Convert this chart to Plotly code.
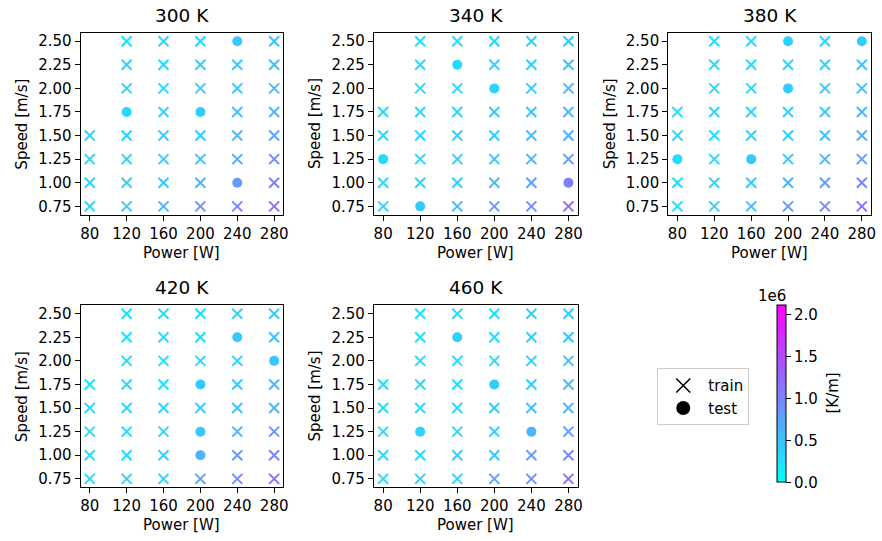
import plotly.graph_objects as go

# Process grid
POWERS = [80, 120, 160, 200, 240, 280]               # laser power [W]
SPEEDS = [0.75, 1.00, 1.25, 1.50, 1.75, 2.00, 2.25, 2.50]  # scan speed [m/s]
TEMPS = ["300 K", "340 K", "380 K", "420 K", "460 K"]

# Cooling rate in units of 1e6 K/m; rows follow SPEEDS, columns follow POWERS
RATE_300 = [
    [0.36, 0.42, 0.62, 0.86, 1.00, 1.27],
    [0.36, 0.39, 0.46, 0.56, 0.82, 1.06],
    [0.35, 0.37, 0.42, 0.52, 0.68, 0.96],
    [0.35, 0.37, 0.39, 0.46, 0.56, 0.71],
    [None, 0.35, 0.37, 0.42, 0.52, 0.62],
    [None, 0.33, 0.35, 0.39, 0.48, 0.58],
    [None, 0.33, 0.35, 0.37, 0.46, 0.54],
    [None, 0.31, 0.33, 0.35, 0.44, 0.50],
]
RATE_340 = [
    [0.35, 0.44, 0.60, 0.82, 0.97, 1.26],
    [0.33, 0.35, 0.42, 0.54, 0.80, 1.06],
    [0.31, 0.35, 0.39, 0.48, 0.60, 0.86],
    [0.31, 0.33, 0.37, 0.42, 0.52, 0.65],
    [0.31, 0.31, 0.35, 0.39, 0.48, 0.58],
    [None, 0.31, 0.33, 0.37, 0.44, 0.54],
    [None, 0.29, 0.31, 0.35, 0.42, 0.50],
    [None, 0.29, 0.31, 0.33, 0.39, 0.46],
]
RATE_380 = [
    [0.33, 0.39, 0.54, 0.80, 0.97, 1.23],
    [0.31, 0.35, 0.44, 0.60, 0.82, 1.02],
    [0.29, 0.33, 0.46, 0.46, 0.58, 0.82],
    [0.29, 0.31, 0.35, 0.40, 0.50, 0.62],
    [0.29, 0.31, 0.33, 0.37, 0.46, 0.56],
    [None, 0.29, 0.31, 0.42, 0.42, 0.52],
    [None, 0.29, 0.31, 0.33, 0.40, 0.48],
    [None, 0.27, 0.29, 0.40, 0.37, 0.44],
]
RATE_420 = [
    [0.31, 0.33, 0.37, 0.80, 0.97, 1.23],
    [0.29, 0.31, 0.35, 0.62, 0.80, 1.02],
    [0.29, 0.31, 0.33, 0.46, 0.60, 0.86],
    [0.29, 0.29, 0.31, 0.37, 0.50, 0.62],
    [0.27, 0.29, 0.31, 0.44, 0.44, 0.56],
    [None, 0.27, 0.29, 0.33, 0.40, 0.48],
    [None, 0.27, 0.29, 0.31, 0.48, 0.48],
    [None, 0.27, 0.27, 0.31, 0.37, 0.44],
]
RATE_460 = [
    [0.31, 0.33, 0.37, 0.74, 0.92, 1.21],
    [0.29, 0.31, 0.35, 0.44, 0.78, 0.97],
    [0.29, 0.39, 0.33, 0.42, 0.60, 0.82],
    [0.27, 0.29, 0.31, 0.37, 0.48, 0.60],
    [0.27, 0.29, 0.31, 0.42, 0.42, 0.54],
    [None, 0.27, 0.29, 0.31, 0.39, 0.48],
    [None, 0.27, 0.40, 0.31, 0.37, 0.46],
    [None, 0.25, 0.27, 0.29, 0.35, 0.42],
]

# Held-out (power, speed) combinations per temperature
TEST_300 = [(240, 2.50), (120, 1.75), (200, 1.75), (240, 1.00)]
TEST_340 = [(160, 2.25), (200, 2.00), (80, 1.25), (120, 0.75), (280, 1.00)]
TEST_380 = [(200, 2.50), (280, 2.50), (200, 2.00), (80, 1.25), (160, 1.25)]
TEST_420 = [(240, 2.25), (280, 2.00), (200, 1.75), (200, 1.25), (200, 1.00)]
TEST_460 = [(160, 2.25), (200, 1.75), (120, 1.25), (240, 1.25)]

RATES = [RATE_300, RATE_340, RATE_380, RATE_420, RATE_460]
TESTS = [TEST_300, TEST_340, TEST_380, TEST_420, TEST_460]

CB_TICKS = [0.0, 0.5, 1.0, 1.5, 2.0]
SCALE = 1e6
CMAX = 2.11e6

W, H = 882, 541
FONT = "DejaVu Sans"
COOL = [[0.0, "rgb(0,255,255)"], [1.0, "rgb(255,0,255)"]]

# panel boxes in pixels: (left, right) and (top, bottom)
COLS = [(81, 285), (376, 581), (672, 876)]
ROWS = [(33, 215), (306, 488)]


def fx(px):
    return px / W


def fy(py):
    return 1 - py / H


fig = go.Figure()
annotations = []
layout_axes = {}

for i, (temp, rate, tests) in enumerate(zip(TEMPS, RATES, TESTS)):
    r, c = divmod(i, 3)
    (x0, x1), (y0, y1) = COLS[c], ROWS[r]
    n = i + 1
    xa = "x" if n == 1 else f"x{n}"
    ya = "y" if n == 1 else f"y{n}"
    test_set = set(tests)

    tr_x, tr_y, tr_c, te_x, te_y, te_c = [], [], [], [], [], []
    for si, s in enumerate(SPEEDS):
        for pi, p in enumerate(POWERS):
            v = rate[si][pi]
            if v is None:
                continue
            if (p, s) in test_set:
                te_x.append(p); te_y.append(s); te_c.append(v * SCALE)
            else:
                tr_x.append(p); tr_y.append(s); tr_c.append(v * SCALE)

    fig.add_trace(go.Scatter(
        x=tr_x, y=tr_y, mode="markers", xaxis=xa, yaxis=ya, showlegend=False,
        marker=dict(symbol="x-thin-open", size=10, color=tr_c, colorscale=COOL,
                    cmin=0, cmax=CMAX, line=dict(width=2)),
        hoverinfo="skip"))
    fig.add_trace(go.Scatter(
        x=te_x, y=te_y, mode="markers", xaxis=xa, yaxis=ya, showlegend=False,
        marker=dict(symbol="circle", size=10, color=te_c, colorscale=COOL,
                    cmin=0, cmax=CMAX, line=dict(width=0),
                    showscale=(i == 0),
                    colorbar=dict(
                        x=fx(781), xanchor="left", xpad=0,
                        y=fy((306 + 483) / 2), yanchor="middle", ypad=0,
                        lenmode="pixels", len=177,
                        thicknessmode="pixels", thickness=9,
                        outlinewidth=1, outlinecolor="black",
                        ticks="outside", ticklen=5, tickwidth=1, tickcolor="black",
                        tickvals=[t * SCALE for t in CB_TICKS],
                        ticktext=[f"{t:.1f}" for t in CB_TICKS],
                        tickfont=dict(family=FONT, size=15, color="black"),
                    )),
        hoverinfo="skip"))

    axis_common = dict(showline=True, mirror=True, linecolor="black", linewidth=1,
                       ticks="outside", ticklen=5, tickwidth=1, tickcolor="black",
                       showgrid=False, zeroline=False,
                       tickfont=dict(family=FONT, size=15, color="black"))
    key_x = "xaxis" if n == 1 else f"xaxis{n}"
    key_y = "yaxis" if n == 1 else f"yaxis{n}"
    layout_axes[key_x] = dict(axis_common, domain=[fx(x0), fx(x1)], anchor=ya,
                              range=[70, 290], tickvals=POWERS)
    layout_axes[key_y] = dict(axis_common, domain=[fy(y1), fy(y0)], anchor=xa,
                              range=[0.6625, 2.5875], tickvals=SPEEDS,
                              ticktext=[f"{s:.2f}" for s in SPEEDS])

    xc = (x0 + x1) / 2
    yc = (y0 + y1) / 2
    annotations.append(dict(text=temp, x=fx(xc), y=fy(y0 - 5), xref="paper", yref="paper",
                            xanchor="center", yanchor="bottom", showarrow=False,
                            font=dict(family=FONT, size=18.5, color="black")))
    annotations.append(dict(text="Power [W]", x=fx(xc), y=fy(y1 + 38), xref="paper",
                            yref="paper", xanchor="center", yanchor="middle", showarrow=False,
                            font=dict(family=FONT, size=15, color="black")))
    annotations.append(dict(text="Speed [m/s]", x=fx(x0 - 59), y=fy(yc), xref="paper",
                            yref="paper", xanchor="center", yanchor="middle", showarrow=False,
                            textangle=-90, font=dict(family=FONT, size=15, color="black")))

# colorbar offset text and label
annotations.append(dict(text="1e6", x=fx(776), y=fy(297), xref="paper", yref="paper",
                        xanchor="center", yanchor="middle", showarrow=False,
                        font=dict(family=FONT, size=15, color="black")))
annotations.append(dict(text="[K/m]", x=fx(838), y=fy(394), xref="paper", yref="paper",
                        xanchor="center", yanchor="middle", showarrow=False, textangle=-90,
                        font=dict(family=FONT, size=15, color="black")))

# legend entries
fig.add_trace(go.Scatter(x=[None], y=[None], mode="markers", name="train",
                         marker=dict(symbol="x-thin-open", size=14, color="black",
                                     line=dict(width=1.5))))
fig.add_trace(go.Scatter(x=[None], y=[None], mode="markers", name="test",
                         marker=dict(symbol="circle", size=14, color="black")))

fig.update_layout(
    width=W, height=H, margin=dict(l=0, r=0, t=0, b=0),
    plot_bgcolor="white", paper_bgcolor="white",
    font=dict(family=FONT, size=15, color="black"),
    annotations=annotations,
    showlegend=True,
    legend=dict(x=fx(661), y=fy(369), xanchor="left", yanchor="top",
                bordercolor="#cccccc", borderwidth=1, bgcolor="white",
                font=dict(family=FONT, size=15, color="black"),
                itemsizing="trace", itemwidth=40, tracegroupgap=0),
    **layout_axes,
)

fig.write_html("out.html")
